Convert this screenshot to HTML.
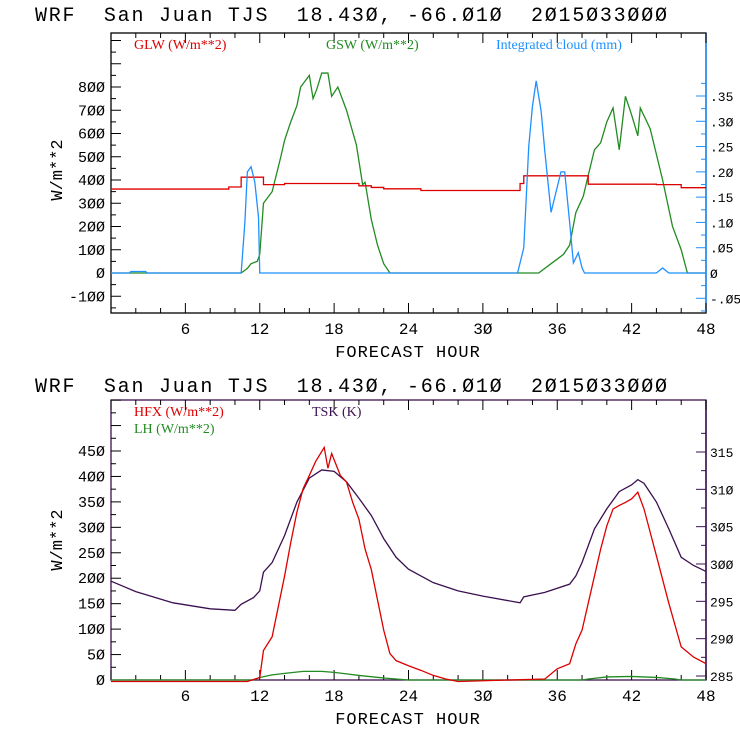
<!DOCTYPE html>
<html><head><meta charset="utf-8"><style>
body{margin:0;background:#fff;width:740px;height:740px;overflow:hidden}
svg text{font-family:"Liberation Mono",monospace}
</style></head><body>
<svg id="c" width="740" height="740" viewBox="0 0 740 740">
<text x="35" y="21" font-size="20" style="white-space:pre" textLength="632" lengthAdjust="spacing">WRF  San Juan TJS  18.43Ø, -66.Ø1Ø  2Ø15Ø33ØØØ</text>
<text x="35" y="392" font-size="20" style="white-space:pre" textLength="632" lengthAdjust="spacing">WRF  San Juan TJS  18.43Ø, -66.Ø1Ø  2Ø15Ø33ØØØ</text>
</svg>
<script>
// ---- data ----
const glwHours=[0,9.5,10.5,12.3,14,20,21,22,25,33,33.3,38.5,44,46,48];
const glwVals=[361,370,412,380,385,375,368,362,355,385,418,382,380,367,367];
const gswHours=[0,10.5,11,11.3,11.8,12,12.3,13,13.7,14,14.5,15,15.3,16,16.3,16.6,17,17.5,17.8,18.3,19,19.8,20.3,20.5,21,21.5,22,22.5,34.5,35.5,36.5,37,37.5,38.1,38.5,39,39.5,40,40.5,41,41.5,42,42.5,42.7,43.5,44.5,45.3,46,46.5,48];
const gswVals=[0,0,20,40,50,80,300,350,500,570,650,720,800,850,750,790,860,860,760,800,700,550,380,390,230,120,40,0,0,40,80,120,260,330,420,530,560,650,710,530,760,680,590,710,620,400,200,100,0,0];
const cldHours=[0,1.5,1.6,2.8,2.9,10.5,10.8,11,11.3,11.6,11.9,12,32.8,33.3,33.7,34,34.3,34.7,35,35.5,35.8,36.3,36.6,37,37.3,37.7,38,38.2,44,44.5,45,48];
const cldVals=[0,0,0.003,0.003,0,0,0.1,0.2,0.21,0.18,0.11,0,0,0.05,0.25,0.33,0.38,0.32,0.24,0.12,0.15,0.2,0.2,0.1,0.02,0.04,0.01,0,0,0.01,0,0];
const hfxHours=[0,11,12,12.3,13,14,14.5,15,15.5,16,16.5,17.2,17.5,17.8,18.5,19,19.5,20,20.5,21,22,22.5,23,24,25,26,27,28,35,36,37,37.5,38,39,39.5,40,40.5,41,41.5,42,42.5,43,44,45,46,47,48];
const hfxVals=[-3,-3,5,58,85,204,270,330,376,402,429,457,416,445,402,389,349,316,257,217,98,52,38,28,19,9,2,-3,2,22,32,71,98,204,257,303,336,343,349,356,369,336,244,151,65,45,32];
const lhHours=[0,11.5,12,13,14,15.5,17,18,19,20,22,24,38,38.5,40,42,44,45.5,46,48];
const lhVals=[0,0,5,10,13,17,17,15,12,9,4,0,0,2,6,7,5,2,0,0];
const tskHours=[0,2,5,8,10,10.5,11.5,12,12.3,13,14,15,16,17,18,19,20,21,22,23,24,26,28,30,33,33.3,35,37,37.5,38,39,40,41,42,42.5,43,44,45,46,47,48];
const tskVals=[297.7,296.3,294.8,294,293.8,294.6,295.5,296.4,298.9,300.2,303.8,308.3,311.5,312.6,312.4,311,308.8,306.5,303.4,300.9,299.3,297.5,296.4,295.7,294.8,295.6,296.2,297.3,298.4,300.2,304.7,307.4,309.7,310.6,311.3,310.8,308.3,304.7,300.9,299.8,299];
const xTicks=[6,12,18,24,30,36,42,48];
const topLeftTicks=[-100,0,100,200,300,400,500,600,700,800];
const topRightTicks=[-0.05,0,0.05,0.1,0.15,0.2,0.25,0.3,0.35];
const topRightLabels=['-.Ø5','Ø','.Ø5','.1Ø','.15','.2Ø','.25','.3Ø','.35'];
const botLeftTicks=[0,50,100,150,200,250,300,350,400,450];
const botRightTicks=[285,290,295,300,305,310,315];

const NS='http://www.w3.org/2000/svg';
const svg=document.getElementById('c');
function el(t,a,p){const e=document.createElementNS(NS,t);for(const k in a)e.setAttribute(k,a[k]);(p||svg).appendChild(e);return e;}
const X0=111,X1=706;
const xs=h=>X0+(X1-X0)*h/48;
const z=s=>String(s).replace(/0/g,'Ø');

function frame(top,bot,name,rightColor){
  const g=el('g',{});
  
  
  el('rect',{x:X0,y:top,width:X1-X0,height:bot-top,fill:'none',stroke:'#000','stroke-width':1.3},g);
  el('line',{x1:X1,y1:top,x2:X1,y2:bot,stroke:rightColor,'stroke-width':1.5},g);
  for(let h=0;h<=48;h+=2){const L=h%6==0?10:5;
    el('line',{x1:xs(h),y1:bot,x2:xs(h),y2:bot-L,stroke:'#000'},g);
    el('line',{x1:xs(h),y1:top,x2:xs(h),y2:top+L,stroke:'#000'},g);}
  xTicks.forEach(h=>{const t=el('text',{x:xs(h),y:bot+21,'font-size':16,'text-anchor':'middle'},g);t.textContent=z(h);
    });
  const xt=el('text',{x:408,y:bot+44,'font-size':17,'text-anchor':'middle','letter-spacing':1},g);
  xt.textContent='FORECAST HOUR';
  
  return g;
}
function yaxes(top,bot,yl,yr,lt,lstep,rt,rlabels,rstep,rcol,g,ymin,ymax){
  for(let v=ymin;v<=ymax+1e-6;v+=lstep/2){const y=yl(v);if(y<top-1||y>bot+1)continue;const L=Math.abs(v/lstep-Math.round(v/lstep))<1e-6?10:5;
    el('line',{x1:X0,y1:y,x2:X0+L,y2:y,stroke:'#000'},g);}
  lt.forEach(v=>{const t=el('text',{x:X0-6,y:yl(v)+5,'font-size':15,'text-anchor':'end'},g);t.textContent=z(v);
    });
  rt.forEach((v,i)=>{const y=yr(v);el('line',{x1:X1,y1:y,x2:X1-10,y2:y,stroke:rcol},g);
    const y2=yr(v+rstep/2);if(y2>top)el('line',{x1:X1,y1:y2,x2:X1-5,y2:y2,stroke:rcol},g);
    const t=el('text',{x:X1+4,y:y+5,'font-size':13},g);t.textContent=rlabels[i];
    });
  const yb=yr(rt[0]-rstep/2); if(yb<bot) el('line',{x1:X1,y1:yb,x2:X1-5,y2:yb,stroke:rcol},g);
}
function line(hs,vs,ys,color,name,step){
  let d='';
  for(let i=0;i<hs.length;i++){
    const x=xs(hs[i]),y=ys(vs[i]);
    if(i==0)d+='M'+x+' '+y;
    else if(step)d+=' H'+x+' V'+y;
    else d+=' L'+x+' '+y;
  }
  const p=el('path',{d:d,fill:'none',stroke:color,'stroke-width':1.3});
  
  
}
function legend(x,y,txt,col,name){
  const t=el('text',{x:x,y:y,'font-size':14,fill:col});
  t.style.fontFamily='"Liberation Serif",serif';t.textContent=txt;
  
}
function ylabel(x,y){const t=el('text',{x:0,y:0,'font-size':17,'text-anchor':'middle',transform:`translate(${x},${y}) rotate(-90)`});
  t.textContent='W/m**2';}

// top chart
const T0=33,T1=313;
const yTop=v=>273-(v)*(273-87)/800;
const yCld=v=>273-v*(273-96)/0.35;
const g1=frame(T0,T1,'top','#1e90ff');
yaxes(T0,T1,yTop,yCld,topLeftTicks,100,topRightTicks,topRightLabels,0.05,'#1e90ff',g1,-150,1000);
ylabel(62,170);
line(gswHours,gswVals,yTop,'#228b22','gsw-line',false);
line(glwHours,glwVals,yTop,'#dd0000','glw-line',true);
line(cldHours,cldVals,yCld,'#1e90ff','cloud-line',false);
legend(134,49,'GLW (W/m**2)','#dd0000','legend-glw');
legend(326,49,'GSW (W/m**2)','#228b22','legend-gsw');
legend(496,49,'Integrated cloud (mm)','#1e90ff','legend-cloud');

// bottom chart
const B0=400,B1=680;
const yBot=v=>680-v*(680-451)/450;
const yTsk=v=>676-(v-285)*(676-452)/30;
const g2=frame(B0,B1,'bottom','#3b1050');
g2.firstChild.setAttribute('stroke','#3b1050');
yaxes(B0,B1,yBot,yTsk,botLeftTicks,50,botRightTicks,botRightTicks.map(z),5,'#3b1050',g2,0,550);
ylabel(62,540);
line(lhHours,lhVals,yBot,'#228b22','lh-line',false);
line(tskHours,tskVals,yTsk,'#3b1050','tsk-line',false);
line(hfxHours,hfxVals,yBot,'#dd0000','hfx-line',false);
legend(134,416,'HFX (W/m**2)','#dd0000','legend-hfx');
legend(134,433,'LH  (W/m**2)','#228b22','legend-lh');
legend(312,416,'TSK (K)','#3b1050','legend-tsk');
</script>
</body></html>
